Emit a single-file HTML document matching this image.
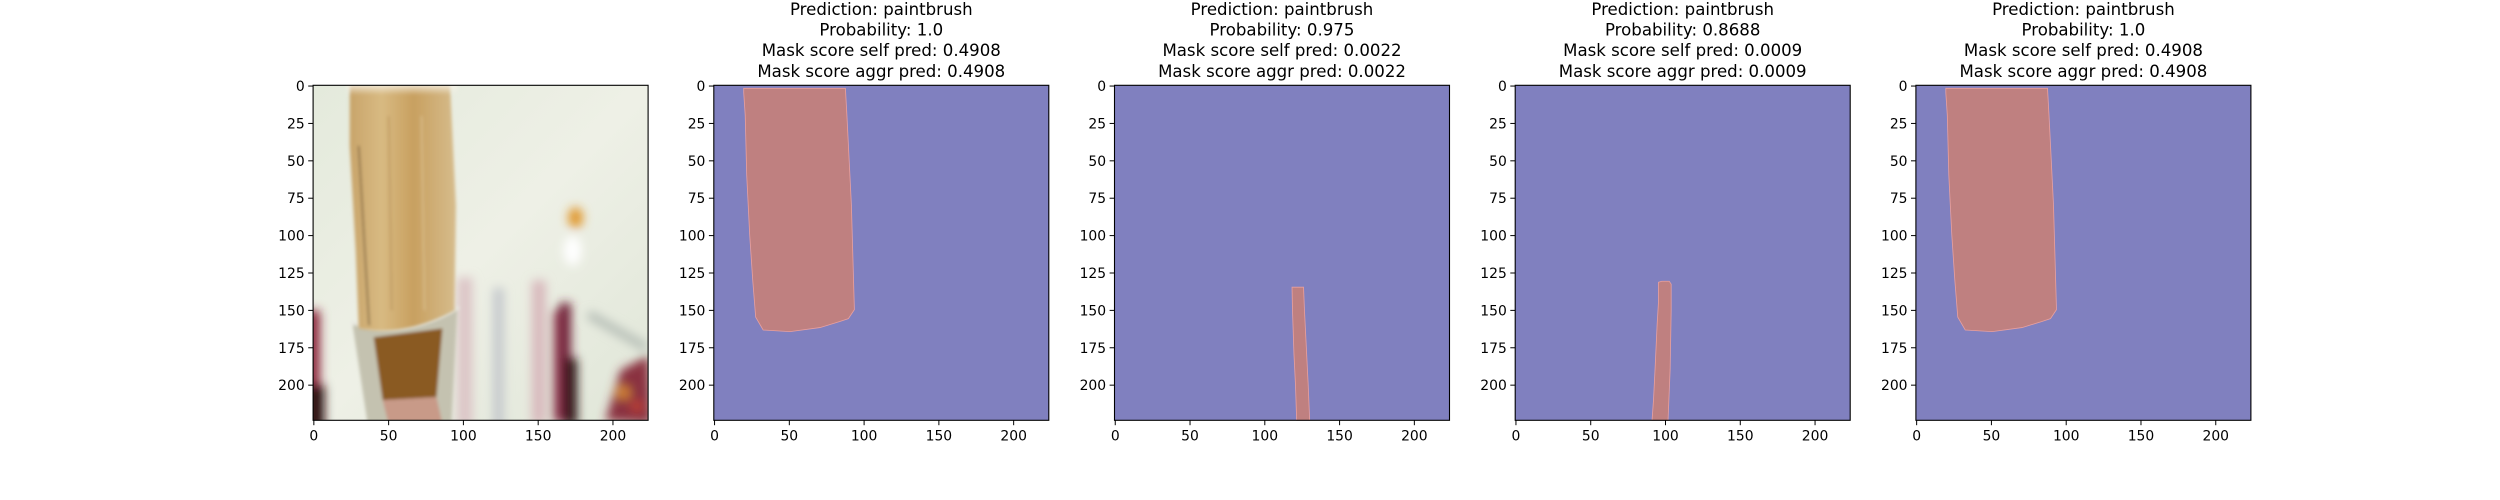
<!DOCTYPE html>
<html><head><meta charset="utf-8"><style>
html,body{margin:0;padding:0;background:#fff;}
svg{display:block;font-family:"DejaVu Sans","Liberation Sans",sans-serif;}
</style></head><body>
<svg id="fig" width="2500" height="500" viewBox="0 0 2500 500" xmlns="http://www.w3.org/2000/svg">
<defs>
<filter id="b4" x="-30%" y="-30%" width="160%" height="160%"><feGaussianBlur stdDeviation="5"/></filter>
<filter id="b2" x="-20%" y="-20%" width="140%" height="140%"><feGaussianBlur stdDeviation="1.5"/></filter>
<linearGradient id="hair" x1="0" x2="1" y1="0" y2="0">
<stop offset="0" stop-color="#c8a46a"/><stop offset="0.3" stop-color="#d8ba82"/><stop offset="0.6" stop-color="#c8a060"/><stop offset="1" stop-color="#d6bc8c"/></linearGradient>
<linearGradient id="hairV" x1="0" x2="0" y1="0" y2="1">
<stop offset="0" stop-color="#f8f4ea" stop-opacity="0.95"/><stop offset="0.2" stop-color="#f4efe0" stop-opacity="0"/></linearGradient>
<linearGradient id="bg" x1="0" x2="1" y1="0" y2="1">
<stop offset="0" stop-color="#e4eadc"/><stop offset="0.5" stop-color="#eef0e6"/><stop offset="1" stop-color="#e0e6d8"/></linearGradient>
</defs>
<g id="root"></g>
</svg>
<script>
// ---- data ----
const panelTitles = [
  null,
  ["Prediction: paintbrush","Probability: 1.0","Mask score self pred: 0.4908","Mask score aggr pred: 0.4908"],
  ["Prediction: paintbrush","Probability: 0.975","Mask score self pred: 0.0022","Mask score aggr pred: 0.0022"],
  ["Prediction: paintbrush","Probability: 0.8688","Mask score self pred: 0.0009","Mask score aggr pred: 0.0009"],
  ["Prediction: paintbrush","Probability: 1.0","Mask score self pred: 0.4908","Mask score aggr pred: 0.4908"]
];
const xTicks = [0,50,100,150,200];
const yTicks = [0,25,50,75,100,125,150,175,200];
const imgSize = 224;
const maskA = [[20,2],[88,2],[89,20],[92,80],[94,150],[90,156],[84,158],[71,162],[51,164.7],[33,163.6],[28,155],[26,130],[24,100],[22,60],[21,20],[20,5]];
const maskB = [[118.7,135],[126.4,135],[127,150],[128,170],[129.5,200],[130.5,224],[121.8,224],[121,200],[120,180],[119,150]];
const maskC = [[95.8,131.7],[98,131],[103,131],[104.3,133],[104.3,150],[103.6,190],[102.2,224],[91.5,224],[92.5,210],[93.5,190],[94.9,160],[95.8,145]];
const panelMasks = [null, maskA, maskB, maskC, maskA];

// ---- layout ----
const panelLefts = [313.1, 713.8, 1114.5, 1515.2, 1915.9];
const axTop = 85.3, axSize = 335;
const NS = "http://www.w3.org/2000/svg";
const root = document.getElementById('root');
function mk(tag, attrs, parent){const e=document.createElementNS(NS,tag);for(const k in attrs)e.setAttribute(k,attrs[k]);(parent||root).appendChild(e);return e;}
function sx(left,v){return left + (v+0.5)/imgSize*axSize;}
function sy(v){return axTop + (v+0.5)/imgSize*axSize;}

panelLefts.forEach((L,i)=>{
  const g = mk('g',{});
  
  
  if(i===0){
    const cp = mk('clipPath',{id:'cp0'},g);
    mk('rect',{x:L,y:axTop,width:axSize,height:axSize},cp);
    const ph = mk('g',{'clip-path':'url(#cp0)'},g);
    
    
    const X=v=>sx(L,v), Y=v=>sy(v), W=v=>v/imgSize*axSize;
    mk('rect',{x:L,y:axTop,width:axSize,height:axSize,fill:'url(#bg)'},ph);
    const bl = mk('g',{filter:'url(#b4)'},ph);
    mk('rect',{x:X(96),y:Y(128),width:W(10),height:W(100),fill:'#dcc4c6'},bl);
    mk('rect',{x:X(120),y:Y(135),width:W(7),height:W(95),fill:'#c4c8cc'},bl);
    mk('rect',{x:X(146),y:Y(130),width:W(9),height:W(96),fill:'#d8b8bc'},bl);
    mk('rect',{x:X(160),y:Y(150),width:W(8),height:W(75),fill:'#9a4058'},bl);
    mk('rect',{x:X(164),y:Y(145),width:W(8),height:W(80),fill:'#702038'},bl);
    mk('rect',{x:X(168),y:Y(182),width:W(8),height:W(45),fill:'#2a1418'},bl);
    mk('ellipse',{cx:X(175),cy:Y(88),rx:W(5),ry:W(7),fill:'#e0962a'},bl);
    mk('ellipse',{cx:X(173),cy:Y(110),rx:W(6),ry:W(10),fill:'#ffffff'},bl);
    mk('rect',{x:X(185),y:Y(150),width:W(45),height:W(6),fill:'#b8c0b8',transform:'rotate(30 '+X(185)+' '+Y(150)+')'},bl);
    mk('path',{d:`M${X(195)} ${Y(224)} L${X(205)} ${Y(190)} L${X(224)} ${Y(180)} L${X(226)} ${Y(226)} Z`,fill:'#8a3040'},bl);
    mk('circle',{cx:X(207),cy:Y(205),r:W(5),fill:'#d08030'},bl);
    mk('circle',{cx:X(216),cy:Y(214),r:W(4),fill:'#c04030'},bl);
    mk('rect',{x:X(-5),y:Y(150),width:W(9),height:W(80),fill:'#8a2038'},bl);
    mk('rect',{x:X(-5),y:Y(200),width:W(12),height:W(30),fill:'#2a0c10'},bl);
    // ferrule
    const fe = mk('g',{filter:'url(#b2)'},ph);
    
    
    mk('path',{d:`M${X(26)} ${Y(160)} L${X(96)} ${Y(148)} L${X(92)} ${Y(226)} L${X(36)} ${Y(226)} Z`,fill:'#c4c2b0'},fe);
    mk('path',{d:`M${X(40)} ${Y(168)} L${X(86)} ${Y(162)} L${X(82)} ${Y(208)} L${X(46)} ${Y(210)} Z`,fill:'#8a5a22'},fe);
    mk('path',{d:`M${X(46)} ${Y(210)} L${X(82)} ${Y(208)} L${X(86)} ${Y(226)} L${X(50)} ${Y(226)} Z`,fill:'#c89a88'},fe);
    mk('path',{d:`M${X(25)} ${Y(158)} Q${X(60)} ${Y(170)} ${X(97)} ${Y(148)}`,stroke:'#e8e8e0','stroke-width':3,fill:'none'},fe);
    // hair
    const hr = mk('g',{filter:'url(#b2)'},ph);
    
    
    mk('path',{d:`M${X(24)} ${Y(-2)} L${X(91)} ${Y(-2)} L${X(95)} ${Y(80)} L${X(94)} ${Y(150)} Q${X(60)} ${Y(168)} ${X(30)} ${Y(162)} L${X(28)} ${Y(110)} L${X(24)} ${Y(40)} Z`,fill:'url(#hair)'},hr);
    mk('rect',{x:X(22),y:Y(-2),width:W(74),height:W(40),fill:'url(#hairV)'},hr);
    mk('line',{x1:X(30),y1:Y(40),x2:X(37),y2:Y(160),stroke:'#5a4020','stroke-width':1.2},hr);
    mk('line',{x1:X(50),y1:Y(20),x2:X(52),y2:Y(150),stroke:'#b08850','stroke-width':1},hr);
    mk('line',{x1:X(72),y1:Y(20),x2:X(74),y2:Y(150),stroke:'#e0c898','stroke-width':1},hr);
  } else {
    const mg = mk('g',{},g);
    
    
    mk('rect',{x:L,y:axTop,width:axSize,height:axSize,fill:'#8080bf'},mg);
    const pts = panelMasks[i].map(p=>sx(L,p[0]-0.5)+','+sy(p[1]-0.5)).join(' ');
    const pg = mk('polygon',{points:pts,fill:'#bf8080',stroke:'#e8a0a0','stroke-width':0.8},mg);
    
    
    const tg = mk('g',{},g);
    
    
    panelTitles[i].forEach((t,k)=>{
      const te = mk('text',{x:L+axSize/2,y:15+k*20.6,'text-anchor':'middle','font-size':'16.6px',fill:'#000'},tg);
      te.textContent = t;
    });
  }
  mk('rect',{x:L,y:axTop,width:axSize,height:axSize,fill:'none',stroke:'#000','stroke-width':1.1},g);
  const xg = mk('g',{},g);
  
  
  xTicks.forEach(v=>{
    const x=sx(L,v);
    mk('line',{x1:x,y1:axTop+axSize,x2:x,y2:axTop+axSize+4.9,stroke:'#000','stroke-width':1},xg);
    const t=mk('text',{x:x,y:axTop+axSize+20,'text-anchor':'middle','font-size':'13.9px'},xg);
    t.textContent=v;
  });
  const yg = mk('g',{},g);
  
  
  yTicks.forEach(v=>{
    const y=sy(v);
    mk('line',{x1:L,y1:y,x2:L-4.9,y2:y,stroke:'#000','stroke-width':1},yg);
    const t=mk('text',{x:L-8.4,y:y+5,'text-anchor':'end','font-size':'13.9px'},yg);
    t.textContent=v;
  });
});
</script>
</body></html>
